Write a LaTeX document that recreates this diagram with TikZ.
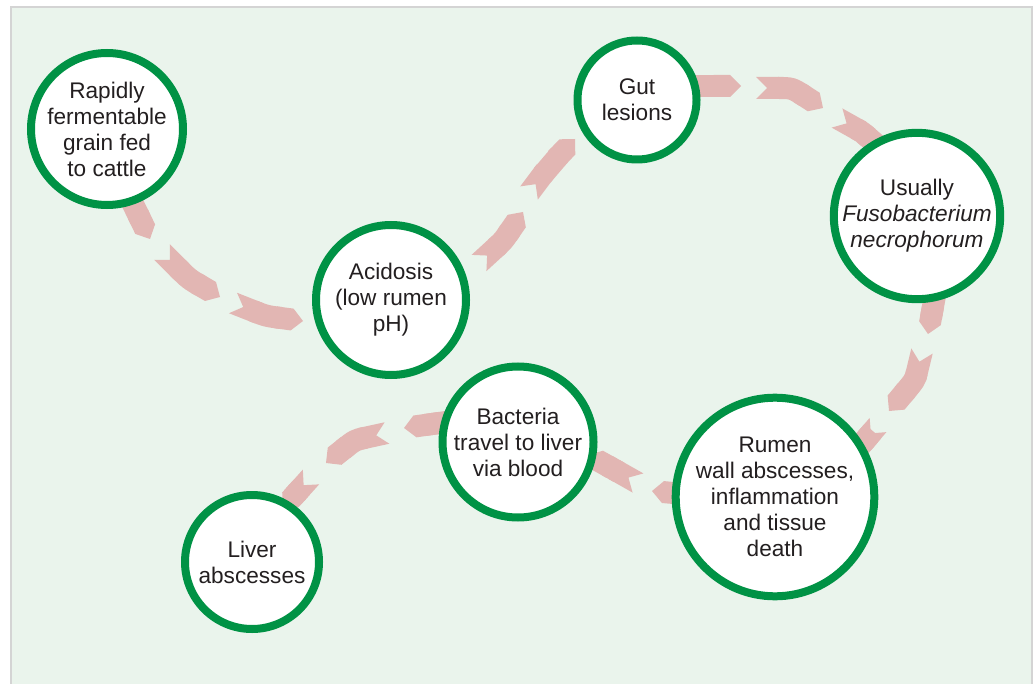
\documentclass[tikz,border=0pt]{standalone}
\usepackage{fontspec}
\setmainfont{Liberation Sans}
\usetikzlibrary{arrows.meta}
\definecolor{bgc}{RGB}{234,244,236}
\definecolor{band}{RGB}{226,182,179}
\definecolor{ring}{RGB}{0,146,69}
\definecolor{txt}{RGB}{35,31,32}
\definecolor{framec}{RGB}{212,212,212}
\pgfdeclarelayer{back}
\pgfsetlayers{back,main}
\begin{document}
\begin{tikzpicture}[x=1pt,y=-1pt,
  stage/.style={circle, draw=ring, line width=8pt, fill=white, minimum size=#1,
    inner sep=0pt, align=center, font=\fontsize{22.6}{26}\selectfont, text=txt},
  seg/.style={draw=band, line width=22pt, {Triangle Cap[reversed]}-{Triangle Cap}}
]
\useasboundingbox (0,0) rectangle (1035,684);
% nodes
\node[stage=152] (n1) at (107,129) {Rapidly\\fermentable\\grain fed\\to cattle};
\node[stage=150] (n2) at (391,300) {Acidosis\\(low rumen\\pH)};
\node[stage=119] (n3) at (637,100) {Gut\\lesions};
\node[stage=164] (n4) at (917,216) {Usually\\\textit{Fusobacterium}\\\textit{necrophorum}};
\node[stage=182] (n5) at (775,497) {Rumen\\wall abscesses,\\inflammation\\and tissue\\death};
\node[stage=151] (n6) at (518,442) {Bacteria\\travel to liver\\via blood};
\node[stage=134] (n7) at (252,562) {Liver\\abscesses};
\begin{pgfonlayer}{back}
\fill[white] (0,0) rectangle (1035,684);
\draw[fill=bgc, draw=framec, line width=2pt] (11,7) rectangle (1032,700);
% n1 -> n2
\draw[seg] (115,167) -- (150,239);
\draw[seg] (162,252) .. controls (189,279) .. (220,297);
\draw[seg] (233,303) .. controls (266,316) .. (303,321);
% n2 -> n3
\draw[seg] (479,263) .. controls (503,241) .. (523,212);
\draw[seg] (529,193) .. controls (550,165) .. (575,139);
% n3 -> n4
\draw[seg] (660,86) -- (741,86);
\draw[seg] (756,88) .. controls (792,88) .. (823,108);
\draw[seg] (837,118) .. controls (862,132) .. (885,152);
% n4 -> n5
\draw[seg] (936,290) -- (928,334);
\draw[seg] (922,351) .. controls (915,380) .. (889,411);
\draw[seg] (878,425) -- (855,452);
% n5 -> n6
\draw[seg] (705,496) -- (652,491);
\draw[seg] (638,483) .. controls (615,470) .. (588,455);
% n6 -> n7
\draw[seg] (460,420) -- (404,428);
\draw[seg] (387,433) .. controls (355,440) .. (326,463);
\draw[seg] (311,477) -- (283,508);
\end{pgfonlayer}
\end{tikzpicture}
\end{document}
